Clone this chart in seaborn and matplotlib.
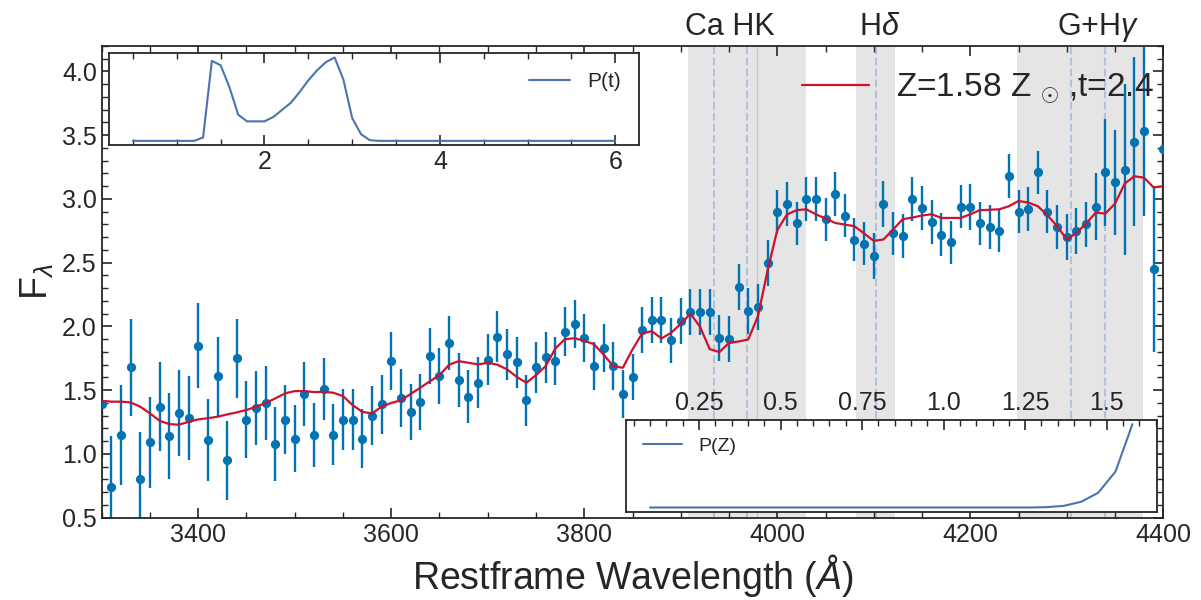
import numpy as np
import matplotlib
matplotlib.use('Agg')
import matplotlib.pyplot as plt
from matplotlib import transforms
from matplotlib.ticker import MultipleLocator, FuncFormatter
import seaborn as sns

# === data ===
wave = np.arange(3300, 4401, 10)

flux = [
    1.39, 0.74, 1.15, 1.68, 0.80, 1.09, 1.37, 1.14, 1.32, 1.28,
    1.85, 1.11, 1.61, 0.95, 1.75, 1.27, 1.36, 1.40, 1.08, 1.27,
    1.12, 1.47, 1.15, 1.51, 1.15, 1.27, 1.27, 1.12, 1.30, 1.39,
    1.73, 1.44, 1.33, 1.41, 1.77, 1.61, 1.87, 1.58, 1.45, 1.56,
    1.74, 1.92, 1.78, 1.72, 1.42, 1.68, 1.76, 1.73, 1.96, 2.02,
    1.91, 1.69, 1.83, 1.69, 1.47, 1.60, 1.97, 2.05, 2.05, 1.89,
    2.04, 2.11, 2.11, 2.11, 1.91, 1.90, 2.31, 2.12, 2.15, 2.50,
    2.90, 2.96, 2.81, 3.00, 3.00, 2.84, 3.04, 2.87, 2.68, 2.65,
    2.55, 2.96, 2.73, 2.71, 3.00, 2.93, 2.82, 2.72, 2.66, 2.94,
    2.94, 2.81, 2.78, 2.75, 3.18, 2.90, 2.92, 3.21, 2.90, 2.78,
    2.70, 2.75, 2.80, 2.94, 3.21, 3.13, 3.23, 3.45, 3.53, 2.45,
    3.39,
]

flux_err = [
    0.42, 0.40, 0.39, 0.38, 0.37, 0.36, 0.35, 0.34, 0.34, 0.33,
    0.33, 0.32, 0.31, 0.31, 0.31, 0.30, 0.29, 0.29, 0.29, 0.27,
    0.26, 0.25, 0.25, 0.24, 0.24, 0.24, 0.24, 0.23, 0.23, 0.23,
    0.23, 0.23, 0.22, 0.22, 0.22, 0.22, 0.21, 0.21, 0.21, 0.20,
    0.20, 0.20, 0.20, 0.20, 0.20, 0.20, 0.20, 0.19, 0.19, 0.19,
    0.19, 0.19, 0.19, 0.19, 0.19, 0.18, 0.18, 0.18, 0.18, 0.18,
    0.18, 0.18, 0.18, 0.18, 0.18, 0.18, 0.18, 0.18, 0.18, 0.18,
    0.17, 0.17, 0.17, 0.17, 0.17, 0.17, 0.17, 0.17, 0.17, 0.17,
    0.18, 0.18, 0.17, 0.17, 0.17, 0.17, 0.17, 0.17, 0.17, 0.17,
    0.18, 0.17, 0.17, 0.17, 0.17, 0.17, 0.17, 0.17, 0.17, 0.17,
    0.18, 0.18, 0.18, 0.26, 0.42, 0.41, 0.67, 0.66, 0.66, 0.65,
    0.65,
]

model = [
    1.417, 1.410, 1.410, 1.404, 1.370, 1.318, 1.260, 1.234, 1.229, 1.252,
    1.271, 1.280, 1.292, 1.310, 1.326, 1.345, 1.370, 1.400, 1.436, 1.475,
    1.493, 1.493, 1.485, 1.487, 1.480, 1.454, 1.383, 1.330, 1.318, 1.370,
    1.400, 1.420, 1.470, 1.519, 1.570, 1.618, 1.700, 1.728, 1.715, 1.702,
    1.715, 1.700, 1.663, 1.605, 1.558, 1.618, 1.689, 1.827, 1.900, 1.908,
    1.887, 1.861, 1.780, 1.689, 1.676, 1.820, 1.945, 1.963, 1.906, 1.950,
    2.020, 2.100, 1.997, 1.822, 1.799, 1.871, 1.882, 1.898, 2.081, 2.441,
    2.755, 2.878, 2.912, 2.919, 2.880, 2.846, 2.812, 2.799, 2.786, 2.729,
    2.671, 2.682, 2.760, 2.841, 2.854, 2.870, 2.880, 2.851, 2.851, 2.851,
    2.880, 2.912, 2.915, 2.919, 2.943, 2.984, 2.972, 2.943, 2.872, 2.786,
    2.682, 2.734, 2.807, 2.893, 2.885, 2.964, 3.120, 3.178, 3.167, 3.090,
    3.100,
]
model_label = r'Z=1.58 Z $_{\odot}$ ,t=2.4'

# age posterior (top-left inset)
t_grid = [0.5, 1.2, 1.3, 1.4, 1.5, 1.6, 1.7, 1.8, 1.9, 2.0, 2.1, 2.2, 2.3, 2.4,
          2.5, 2.6, 2.7, 2.8, 2.9, 3.0, 3.1, 3.2, 3.3, 6.0]
p_t = [0.0, 0.0, 0.04, 0.96, 0.907, 0.645, 0.315, 0.234, 0.234, 0.234, 0.286,
       0.371, 0.456, 0.585, 0.726, 0.847, 0.944, 1.0, 0.734, 0.274, 0.081,
       0.008, 0.0, 0.0]

# metallicity posterior (bottom-right inset)
z_grid = [0.10, 1.263, 1.315, 1.369, 1.422, 1.474, 1.527, 1.579]
p_z = [0.0, 0.0, 0.004, 0.02, 0.069, 0.177, 0.431, 1.0]

# spectral features
feature_names = ['Ca HK', r'H$\delta$', r'G+H$\gamma$']
feature_label_x = [3951, 4106, 4332]
feature_bands = [(3908, 4030), (4082, 4122), (4248, 4379)]
feature_lines = [3934, 3969, 4102, 4304, 4340]

# === style ===
sns.set_theme(style='ticks')
plt.rcParams['font.family'] = ['Liberation Sans', 'DejaVu Sans']
plt.rcParams['mathtext.fontset'] = 'custom'
plt.rcParams['mathtext.rm'] = 'Liberation Sans'
plt.rcParams['mathtext.it'] = 'Liberation Sans:italic'
plt.rcParams['mathtext.bf'] = 'Liberation Sans:bold'
plt.rcParams['axes.linewidth'] = 1.3

blue = '#0173b2'
red = '#d0112b'
inset_blue = '#4c72b0'


def style_ticks(axis, size=18):
    axis.tick_params(which='both', direction='in', labelsize=size)
    axis.tick_params(which='major', length=7, width=1.2)
    axis.tick_params(which='minor', length=4, width=1.0)


def short_fmt(v, pos):
    s = f'{v:.2f}'.rstrip('0')
    if s.endswith('.'):
        s += '0'
    return s


fig = plt.figure(figsize=(12.01, 6.0), dpi=100)
ax = fig.add_axes([0.0847, 0.1372, 0.8839, 0.7862])

for lo, hi in feature_bands:
    ax.axvspan(lo, hi, color='gray', alpha=0.2, lw=0, zorder=0)
for xl in feature_lines:
    ax.axvline(xl, color='#b3c2d9', ls='--', lw=1.5, zorder=0.5)
ax.axvline(3979, color='#c8c8c8', lw=1.0, zorder=0.5)

ax.errorbar(wave, flux, yerr=flux_err, fmt='none', ecolor=blue,
            elinewidth=1.7, zorder=2)
sns.scatterplot(x=wave, y=flux, ax=ax, color=blue, s=44, linewidth=0,
                zorder=3, legend=False)
sns.lineplot(x=wave, y=model, ax=ax, color=red, lw=1.6, label=model_label,
             zorder=4)

ax.set_xlim(3300, 4400)
ax.set_ylim(0.5, 4.2)
ax.xaxis.set_major_locator(MultipleLocator(200))
ax.xaxis.set_minor_locator(MultipleLocator(50))
ax.yaxis.set_major_locator(MultipleLocator(0.5))
ax.yaxis.set_minor_locator(MultipleLocator(0.1))
style_ticks(ax)
ax.tick_params(which='both', top=True, right=True)
ax.set_xlabel(r'Restframe Wavelength ($\mathit{Å}$)', fontsize=27)
ax.set_ylabel(r'F$_{\lambda}$', fontsize=27)
ax.legend(frameon=False, fontsize=24, loc='center right',
          bbox_to_anchor=(1.019, 0.909), handlelength=2.0)

trans = transforms.blended_transform_factory(ax.transData, ax.transAxes)
for name, xl in zip(feature_names, feature_label_x):
    ax.text(xl, 1.023, name, transform=trans, ha='center', va='baseline',
            fontsize=22)

# --- age inset ---
ins_t = fig.add_axes([0.0906, 0.7583, 0.4418, 0.1528])
ins_t.set_facecolor('white')
sns.lineplot(x=t_grid, y=p_t, ax=ins_t, color=inset_blue, lw=1.5, label='P(t)')
ins_t.legend(frameon=False, fontsize=15, loc='upper right')
ins_t.set_yticks([])
ins_t.xaxis.set_major_locator(MultipleLocator(2))
ins_t.xaxis.set_minor_locator(MultipleLocator(0.5))
style_ticks(ins_t)
ins_t.tick_params(which='both', top=True)
ins_t.set_xlabel('')
ins_t.set_ylabel('')

# --- metallicity inset ---
ins_z = fig.add_axes([0.5212, 0.1472, 0.4418, 0.1528])
ins_z.set_facecolor('white')
sns.lineplot(x=z_grid, y=p_z, ax=ins_z, color=inset_blue, lw=1.5, label='P(Z)')
ins_z.legend(frameon=False, fontsize=14, loc='upper left')
ins_z.set_yticks([])
ins_z.xaxis.tick_top()
ins_z.xaxis.set_major_locator(MultipleLocator(0.25))
ins_z.xaxis.set_minor_locator(MultipleLocator(0.05))
ins_z.xaxis.set_major_formatter(FuncFormatter(short_fmt))
style_ticks(ins_z)
ins_z.tick_params(which='both', top=True, bottom=False, labeltop=True,
                  labelbottom=False)
ins_z.set_xlabel('')
ins_z.set_ylabel('')

fig.savefig('out.png', dpi=100)
